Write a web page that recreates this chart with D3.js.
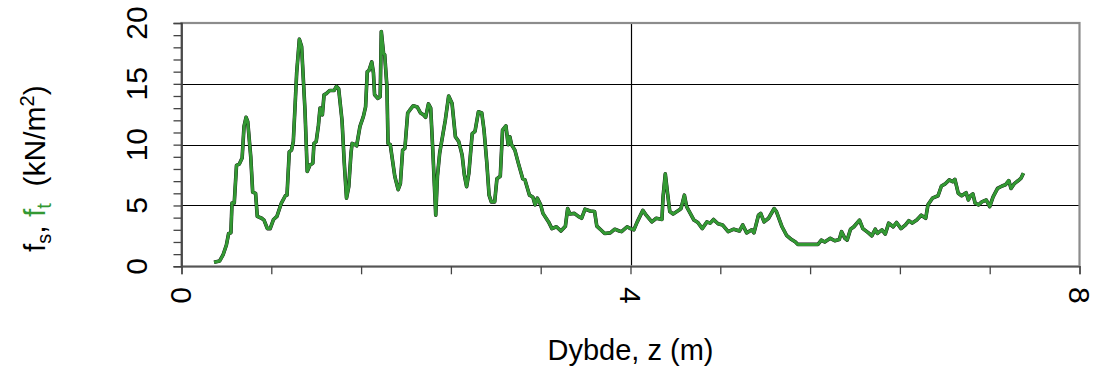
<!DOCTYPE html>
<html><head><meta charset="utf-8">
<script src="https://cdn.jsdelivr.net/npm/d3@7"></script>
<style>html,body{margin:0;padding:0;background:#fff;}svg{display:block;}</style>
</head><body>
<svg id="chart" width="1094" height="372"></svg>
<script>
const depth = [0.29,0.34,0.37,0.40,0.42,0.44,0.45,0.47,0.49,0.515,0.54,0.557,0.575,0.59,0.617,0.634,0.66,0.675,0.714,0.735,0.765,0.79,0.82,0.85,0.89,0.925,0.94,0.96,0.98,0.996,1.01,1.026,1.05,1.07,1.10,1.12,1.145,1.17,1.18,1.20,1.22,1.234,1.255,1.27,1.29,1.32,1.36,1.38,1.40,1.43,1.45,1.47,1.49,1.51,1.52,1.545,1.56,1.59,1.62,1.64,1.655,1.67,1.695,1.71,1.72,1.75,1.77,1.78,1.80,1.81,1.83,1.84,1.86,1.90,1.93,1.95,1.97,1.99,2.015,2.035,2.065,2.10,2.13,2.155,2.175,2.20,2.22,2.24,2.265,2.28,2.30,2.35,2.38,2.41,2.44,2.47,2.50,2.52,2.54,2.56,2.59,2.615,2.645,2.675,2.695,2.72,2.74,2.76,2.79,2.81,2.84,2.86,2.89,2.91,2.925,2.94,2.97,3.00,3.04,3.06,3.10,3.13,3.15,3.17,3.20,3.22,3.27,3.30,3.34,3.38,3.42,3.44,3.46,3.50,3.535,3.565,3.595,3.64,3.68,3.70,3.735,3.77,3.82,3.86,3.90,3.92,3.97,4.00,4.03,4.06,4.11,4.14,4.19,4.23,4.28,4.29,4.31,4.33,4.35,4.38,4.43,4.45,4.48,4.50,4.53,4.565,4.60,4.64,4.68,4.71,4.74,4.78,4.82,4.87,4.92,4.97,5.00,5.035,5.08,5.10,5.14,5.16,5.19,5.23,5.28,5.30,5.35,5.39,5.435,5.47,5.49,5.67,5.70,5.73,5.78,5.82,5.86,5.88,5.91,5.93,5.96,5.99,6.04,6.07,6.12,6.15,6.18,6.20,6.24,6.27,6.30,6.34,6.37,6.41,6.45,6.48,6.51,6.55,6.59,6.63,6.65,6.69,6.74,6.77,6.80,6.84,6.87,6.89,6.92,6.95,6.99,7.01,7.03,7.05,7.07,7.10,7.13,7.17,7.20,7.23,7.27,7.31,7.34,7.37,7.39,7.42,7.455,7.48,7.50];
const fsValues = [0.33,0.44,0.93,1.75,2.7,2.76,5.2,5.2,8.3,8.4,8.9,11.5,12.25,11.9,9.0,6.1,6.0,4.1,3.95,3.8,3.1,3.1,3.85,4.1,5.2,5.8,5.85,9.4,9.55,10.25,12.85,15.9,18.67,18.06,12.85,7.8,8.33,8.47,10.1,10.25,11.6,13.0,12.45,14.1,14.2,14.45,14.45,14.8,14.6,12.0,8.5,5.6,6.55,9.3,10.1,10.0,9.9,11.5,12.3,13.1,16.0,16.1,16.8,15.9,14.1,13.8,13.95,19.3,17.5,17.4,14.8,10.1,10.0,7.4,6.3,6.8,9.55,9.7,12.6,12.85,13.2,13.1,12.6,12.45,12.25,13.35,13.0,9.3,4.2,7.4,9.3,12.0,14.0,13.4,10.65,10.25,9.15,7.5,6.55,7.65,10.9,11.1,12.7,12.6,11.2,8.5,5.85,5.3,5.3,7.2,7.4,11.2,11.55,10.0,10.65,10.0,9.55,8.5,7.2,7.1,5.85,5.7,5.05,5.6,5.05,4.35,3.65,3.1,3.25,2.9,3.3,4.75,4.3,4.35,4.1,3.95,4.7,4.55,4.5,3.3,3.0,2.7,2.75,3.05,2.9,2.85,3.25,3.1,3.0,3.65,4.6,4.2,3.65,3.95,3.85,5.7,7.6,6.0,4.5,4.3,4.6,4.75,5.85,4.9,4.4,3.8,3.6,3.1,3.65,3.55,3.85,3.5,3.4,2.85,3.05,2.9,3.4,2.75,3.0,2.75,4.2,4.35,3.65,3.95,4.75,4.5,3.25,2.55,2.2,2.0,1.8,1.8,2.15,2.0,2.3,2.1,2.2,2.85,2.3,2.15,3.05,3.25,3.8,3.1,2.75,2.5,3.05,2.7,3.0,2.65,3.55,3.25,3.6,3.1,3.4,3.75,3.55,3.8,4.2,3.95,5.05,5.6,5.8,6.6,6.75,7.1,6.95,7.15,6.0,5.8,6.05,5.45,5.8,5.95,5.2,5.05,5.3,5.45,4.9,5.7,6.4,6.6,6.7,7.05,6.4,6.8,7.05,7.25,7.65];
// f_t coincides with f_s throughout this sounding (drawn on top in green)
const ftValues = fsValues.slice();
const xTickLabels = [0, 4, 8];
const yTickLabels = [0, 5, 10, 15, 20];
const xMinorTicks = [0,0.8,1.6,2.4,3.2,4,4.8,5.6,6.4,7.2,8];
const yMinorTicks = d3.range(0, 21, 1);
const yGrid = [5, 10, 15];
const xGrid = [4];

const svg = d3.select("#chart");
const L = 181.5, R = 1079.5, T = 23, B = 266.3;
const x = d3.scaleLinear().domain([0, 8]).range([L, R]);
const y = d3.scaleLinear().domain([0, 20]).range([B, T]);
const font = "'Liberation Sans', Arial, sans-serif";
const green = "#339933";

// grid
svg.append("g").selectAll("line").data(yGrid).join("line")
  .attr("x1", L).attr("x2", R).attr("y1", d => Math.round(y(d)) + 0.5).attr("y2", d => Math.round(y(d)) + 0.5)
  .attr("stroke", "#000").attr("stroke-width", 1.2);
svg.append("g").selectAll("line").data(xGrid).join("line")
  .attr("y1", T).attr("y2", B).attr("x1", d => Math.round(x(d)) + 0.5).attr("x2", d => Math.round(x(d)) + 0.5)
  .attr("stroke", "#000").attr("stroke-width", 1.2);

// frame
svg.append("rect").attr("x", L).attr("y", T).attr("width", R - L).attr("height", B - T)
  .attr("fill", "none").attr("stroke", "#8c8c8c").attr("stroke-width", 2.2);

// axes with minor ticks
const yAxis = d3.axisLeft(y).tickValues(yMinorTicks).tickSize(8).tickFormat("");
const gy = svg.append("g").attr("transform", `translate(${L},0)`).call(yAxis);
gy.select(".domain").attr("stroke", "#333").attr("stroke-width", 1.5);
gy.selectAll(".tick line").attr("stroke", "#444").attr("stroke-width", 1.3);

const xAxis = d3.axisBottom(x).tickValues(xMinorTicks).tickSize(8).tickFormat("");
const gx = svg.append("g").attr("transform", `translate(0,${B})`).call(xAxis);
gx.select(".domain").attr("stroke", "#555").attr("stroke-width", 1.5);
gx.selectAll(".tick line").attr("stroke", "#444").attr("stroke-width", 1.3);

// tick labels
svg.append("g").selectAll("text").data(yTickLabels).join("text")
  .attr("transform", d => `translate(147,${y(d)}) rotate(-90)`)
  .attr("text-anchor", "middle").attr("font-family", font).attr("font-size", 30).attr("fill", "#000")
  .text(d => d);
svg.append("g").selectAll("text").data(xTickLabels).join("text")
  .attr("transform", d => `translate(${x(d) - 11},287) rotate(90)`)
  .attr("text-anchor", "start").attr("font-family", font).attr("font-size", 30).attr("fill", "#000")
  .text(d => d);

// axis titles
svg.append("text").attr("x", (L + R) / 2).attr("y", 360).attr("text-anchor", "middle")
  .attr("font-family", font).attr("font-size", 29).attr("fill", "#000").text("Dybde, z (m)");

const yt = svg.append("text").attr("transform", `translate(45,${(T + B) / 2 + 24}) rotate(-90)`)
  .attr("text-anchor", "middle").attr("font-family", font).attr("font-size", 30).attr("fill", "#000");
yt.append("tspan").text("f");
yt.append("tspan").attr("font-size", 20).attr("dy", 6).text("s");
yt.append("tspan").attr("dy", -6).text(", ");
yt.append("tspan").attr("fill", green).text("f");
yt.append("tspan").attr("fill", green).attr("font-size", 20).attr("dy", 6).text("t");
yt.append("tspan").attr("dy", -6).attr("xml:space", "preserve").style("white-space", "pre").text("  (kN/m");
yt.append("tspan").attr("font-size", 20).attr("dy", -11).text("2");
yt.append("tspan").attr("dy", 11).text(")");

// lines
const lineFs = d3.line().x((d, i) => x(depth[i])).y(d => y(d));
svg.append("path").datum(fsValues).attr("d", lineFs).attr("fill", "none")
  .attr("stroke", "#111").attr("stroke-width", 3.6).attr("stroke-linejoin", "round");
svg.append("path").datum(ftValues).attr("d", lineFs).attr("fill", "none")
  .attr("stroke", green).attr("stroke-width", 3.0).attr("stroke-linejoin", "round");
</script>
</body></html>
